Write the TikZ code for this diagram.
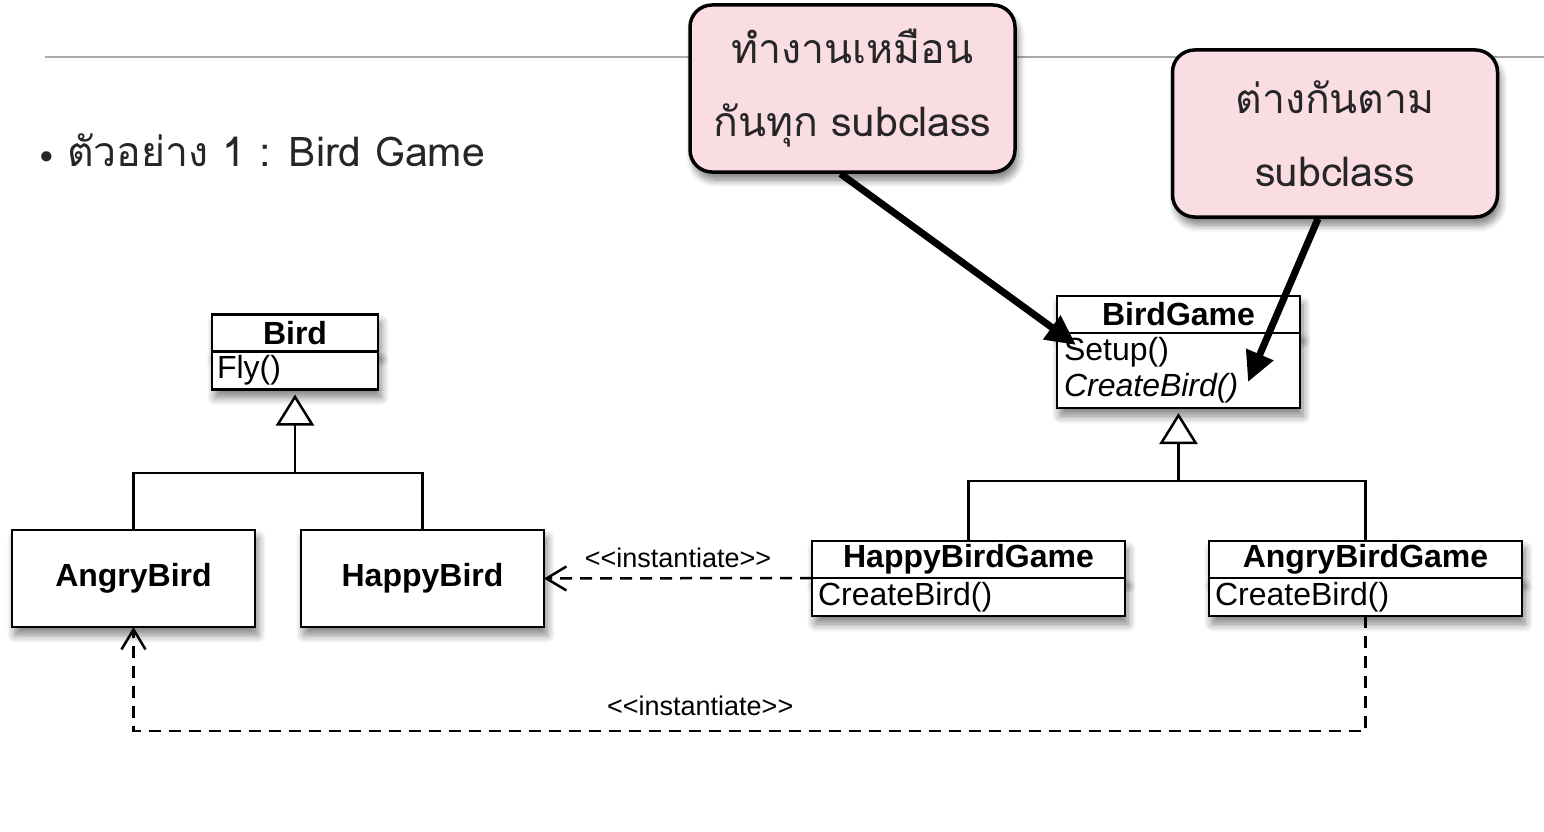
\documentclass[tikz,border=0pt]{standalone}
\usepackage{fontspec}
\setmainfont{Liberation Sans}
\newfontfamily\thaifont[Script=Thai]{Loma}
\usetikzlibrary{positioning,arrows.meta,shadows.blur}

\definecolor{notepink}{RGB}{250,221,227}
\definecolor{rulegray}{RGB}{170,170,170}

\tikzset{
	umlbox/.style={draw=black, line width=2.5pt, fill=white, outer sep=0pt,
		blur shadow={shadow blur steps=8, shadow xshift=3pt, shadow yshift=-8pt, shadow blur radius=8pt, shadow opacity=50}},
	clshead/.style={umlbox, minimum width=#1, minimum height=37pt, inner sep=0pt,
		font=\fontsize{32}{36}\selectfont\bfseries},
	clsops/.style 2 args={umlbox, text width=#1, minimum height=#2, inner xsep=5pt, inner ysep=0pt,
		align=left, font=\fontsize{32}{36}\selectfont},
	clsbox/.style={umlbox, minimum width=243pt, minimum height=97pt,
		font=\fontsize{32}{36}\selectfont\bfseries},
	tree/.style={line width=2.5pt},
	inherit/.style={line width=2.5pt, shorten >=5pt, -{Triangle[fill=white, length=31pt, width=38pt]}},
	depend/.style={line width=2.5pt, dash pattern=on 12pt off 8pt, -{Straight Barb[length=20pt, width=24pt]}},
	stereo/.style={font=\fontsize{27}{30}\selectfont, inner sep=2pt},
	note/.style={draw=black, line width=3.5pt, fill=notepink, rounded corners=22pt,
		minimum width=325pt, minimum height=167pt, align=center, text=black!85,
		font=\thaifont\fontsize{41}{73}\selectfont,
		blur shadow={shadow blur steps=8, shadow xshift=3pt, shadow yshift=-8pt, shadow blur radius=7pt, shadow opacity=50}},
	pointer/.style={line width=7pt, -{Triangle[length=30pt, width=28pt]}}
}

\begin{document}
\begin{tikzpicture}[x=1pt, y=-1pt]
	\useasboundingbox (0,0) rectangle (1544,832);

	% heading rule and bullet
	\draw[rulegray, line width=2pt] (45,57) -- (1544,57);
	\node[anchor=west, font=\thaifont\fontsize{41}{50}\selectfont, text=black!85]
		(bullet) at (36,150) {{\fontsize{30}{30}\selectfont•} ตัวอย่าง 1 : Bird Game};

	% birds
	\node[clshead=166pt] (birdh) at (295,333) {Bird};
	\node[clsops={156pt}{38pt}, below=0pt of birdh] (birdo) {Fly()};
	\node[clsbox] (ab) at (133.5,578.5) {AngryBird};
	\node[clsbox] (hb) at (422.5,578.5) {HappyBird};

	\coordinate (birdj) at (birdo.south |- 0,473);
	\draw[tree] (ab.north) |- (birdj) -| (hb.north);
	\draw[inherit] (birdj) -- (birdo.south);

	% games
	\node[clshead=243pt] (bgh) at (1178.5,314.5) {BirdGame};
	\node[clsops={229pt}{75pt}, inner xsep=7pt, below=0pt of bgh] (bgo) {Setup()\\\textit{CreateBird()}};
	\node[clshead=313pt] (hbgh) at (968.5,559.5) {HappyBirdGame};
	\node[clsops={301pt}{38pt}, inner xsep=6pt, below=0pt of hbgh] (hbgo) {CreateBird()};
	\node[clshead=313pt] (abgh) at (1365.5,559.5) {AngryBirdGame};
	\node[clsops={301pt}{38pt}, inner xsep=6pt, below=0pt of abgh] (abgo) {CreateBird()};

	\coordinate (gamej) at (bgo.south |- 0,481);
	\draw[tree] (hbgh.north) |- (gamej) -| (abgh.north);
	\draw[inherit] (gamej) -- (bgo.south);

	% instantiate
	\draw[depend] (hbgh.south west) --
		node[stereo, above=7pt] (inst1) {<{}<instantiate>{}>} (hb.east);
	\draw[depend] (abgo.south) -- (abgo.south |- 0,731)
		-| node[stereo, pos=0.27, above=12pt] (inst2) {<{}<instantiate>{}>} (ab.south);

	% notes
	\node[note] (same) at (852.5,88.5) {ทำงานเหมือน\\กันทุก subclass};
	\node[note] (diff) at (1335,133.5) {ต่างกันตาม\\subclass};
	\coordinate (setuptip) at (1076,345);
	\coordinate (createtip) at (1248,382);
	\draw[pointer] ([xshift=-12pt]same.south) -- (setuptip);
	\draw[pointer] ([xshift=-17pt]diff.south) -- (createtip);
\end{tikzpicture}
\end{document}
